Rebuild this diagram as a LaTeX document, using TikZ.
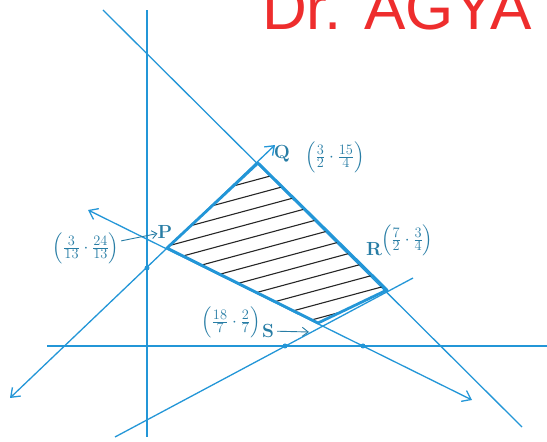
\documentclass[tikz,border=0pt]{standalone}
\usepackage{fontspec}
\usepackage{amsmath}
\usepackage{tikz}
\usetikzlibrary{arrows.meta}
\newfontfamily\signfont{Liberation Sans}
\definecolor{lineblue}{RGB}{35,150,215}
\definecolor{labelblue}{RGB}{40,125,165}
\definecolor{signred}{RGB}{238,45,45}

\begin{document}
\begin{tikzpicture}[x=1pt, y=1pt, line/.style = {draw=lineblue, line width=1.3pt}, bound/.style = {draw=lineblue, line width=2.8pt, line join=round}, lbl/.style = {text=labelblue, font=\fontsize{19}{22}\selectfont, inner sep=0pt}, vtx/.style = {lbl, font=\fontsize{19}{22}\selectfont\bfseries}, spot/.style = {circle, fill=lineblue, inner sep=0pt, minimum size=5pt}, >={Straight Barb[length=8pt,width=12pt]}]
    \useasboundingbox (0,0) rectangle (547,442);
    \clip (0,0) rectangle (547,442);
    \coordinate (y1) at (147,5);
    \coordinate (y2) at (147,432);
    \coordinate (x1) at (47,96);
    \coordinate (x2) at (547,96);
    \coordinate (a1) at (103,432);
    \coordinate (a2) at (522,15);
    \coordinate (b1) at (10,44);
    \coordinate (b2) at (275,297);
    \coordinate (c1) at (88,232);
    \coordinate (c2) at (472,42);
    \coordinate (d1) at (115,5);
    \coordinate (d2) at (413,164);
    \coordinate (P) at (167,194);
    \coordinate (Q) at (258,279);
    \coordinate (R) at (387,152);
    \coordinate (S) at (318,119);
    \draw[line] (y1) -- (y2);
    \draw[line] (x1) -- (x2);
    \draw[line] (a1) -- (a2);
    \draw[line, <->] (b1) -- (b2);
    \draw[line, <->] (c1) -- (c2);
    \draw[line] (d1) -- (d2);
    \node[spot] (yb) at (147,174) {};
    \node[spot] (xd) at (285,96) {};
    \node[spot] (xc) at (363,96) {};
    \begin{scope}
        \clip (P) -- (Q) -- (R) -- (S) -- cycle;
        \foreach \d in {0,...,11}
            \draw[line width=1.1pt, black!85] (150, {233.5-14.1*\d}) -- (400, {301-14.1*\d});
    \end{scope}
    \draw[bound] (P) -- (Q) -- (R) -- (S) -- cycle;
    \node[vtx] (q) at (282,288) {Q};
    \node[lbl] (qc) at (335,285) {$\left(\frac{3}{2}\cdot\frac{15}{4}\right)$};
    \node[vtx] (p) at (165,210) {P};
    \node[lbl] (pc) at (86,194) {$\left(\frac{3}{13}\cdot\frac{24}{13}\right)$};
    \node[vtx] (r) at (374,193) {R};
    \node[lbl, anchor=west] (rc) at (381,202) {$\left(\frac{7}{2}\cdot\frac{3}{4}\right)$};
    \node[lbl] (sc) at (231,120) {$\left(\frac{18}{7}\cdot\frac{2}{7}\right)$};
    \node[vtx] (s) at (268,111) {S};
    \coordinate (stip) at (309,110);
    \draw[draw=labelblue, line width=0.9pt, -{Straight Barb[length=5pt,width=8pt]}, shorten <=2pt] (pc) -- (p);
    \draw[draw=labelblue, line width=0.9pt, -{Straight Barb[length=6pt,width=9pt]}, shorten <=3pt] (s) -- (stip);
    \node[anchor=base west, inner sep=0pt, text=signred, font=\signfont\fontsize{62}{62}\selectfont] (sign) at (262,412) {Dr. AGYA};
\end{tikzpicture}
\end{document}
